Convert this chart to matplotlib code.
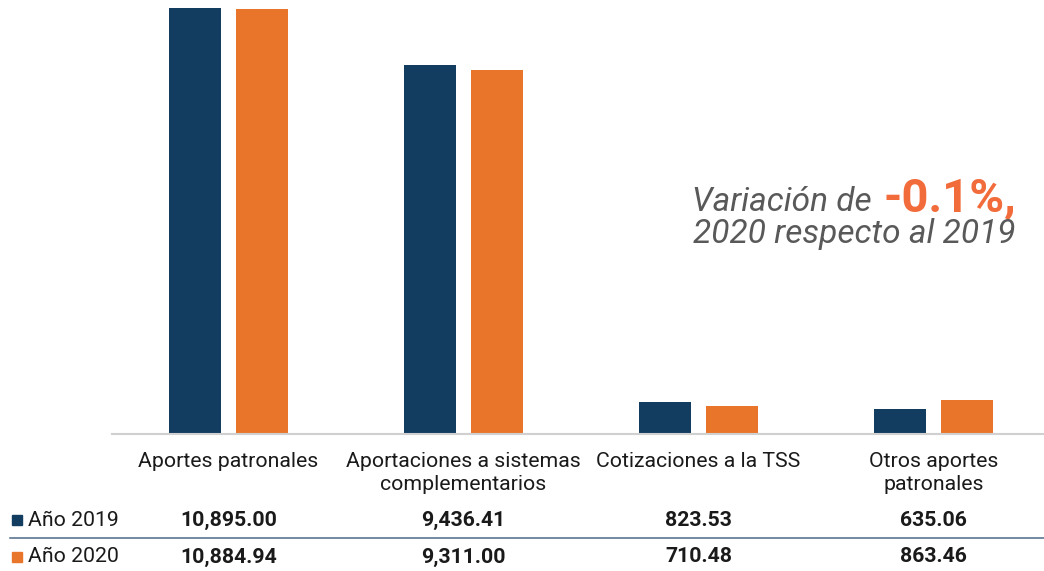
import matplotlib.pyplot as plt
import numpy as np
from matplotlib.patches import Rectangle

categories = ["Aportes patronales", "Aportaciones a sistemas\ncomplementarios",
              "Cotizaciones a la TSS", "Otros aportes\npatronales"]
values_2019 = [10895.00, 9436.41, 823.53, 635.06]
values_2020 = [10884.94, 9311.00, 710.48, 863.46]
series_labels = ["Año 2019", "Año 2020"]
variation_text = "-0.1%,"

BLUE = "#123c60"
ORANGE = "#e8752a"
W, H = 1044, 571
FS = 15.3

plt.rcParams['font.family'] = ['Roboto', 'DejaVu Sans']


def fx(x):
    return x / W


def fy(y):
    return 1 - y / H


fig = plt.figure(figsize=(W / 100, H / 100), dpi=100)
ax = fig.add_axes([fx(112), fy(434), fx(1044 - 112), (434 - 8) / H])

x = np.arange(len(categories))
bw = 0.221
off = 0.1426
ax.bar(x - off, values_2019, bw, color=BLUE)
ax.bar(x + off, values_2020, bw, color=ORANGE)
ax.set_xlim(-0.496, 3.47)
ax.set_ylim(0, max(values_2019 + values_2020) * 1.0009)
for s in ["top", "right", "left"]:
    ax.spines[s].set_visible(False)
ax.spines["bottom"].set_color("#d0d0d0")
ax.spines["bottom"].set_linewidth(1.5)
ax.set_yticks([])
ax.set_xticks([])

# category labels and table values, positioned through the data transform
for i, cat in enumerate(categories):
    xd = ax.transData.transform((i, 0))[0]
    xf = fig.transFigure.inverted().transform((xd, 0))[0]
    fig.text(xf, fy(452), cat, ha="center", va="top", fontsize=FS,
             color="#1a1a1a", linespacing=1.3)
    fig.text(xf, fy(520), f"{values_2019[i]:,.2f}", ha="center", va="center",
             fontsize=FS, fontweight="bold", color="#1a1a1a")
    fig.text(xf, fy(557), f"{values_2020[i]:,.2f}", ha="center", va="center",
             fontsize=FS, fontweight="bold", color="#1a1a1a")

# legend rows of the table
for lab, col, yy in [(series_labels[0], BLUE, 520), (series_labels[1], ORANGE, 557)]:
    fig.patches.append(Rectangle((fx(12), fy(yy + 5)), fx(10), 10 / H,
                                 color=col, transform=fig.transFigure))
    fig.text(fx(28), fy(yy), lab, ha="left", va="center", fontsize=FS,
             color="#1a1a1a")
fig.add_artist(plt.Line2D([fx(10), fx(1044)], [fy(538), fy(538)],
                          color="#4d6a88", lw=1.1))

# annotation
big = fig.text(fx(1016), fy(211), variation_text, ha="right", va="baseline",
               fontsize=34, fontweight="bold", color="#f26b3a")
fig.canvas.draw()
bb = big.get_window_extent(fig.canvas.get_renderer())
fig.text(bb.x0 / W - fx(12), fy(211), "Variación de", ha="right",
         va="baseline", fontsize=24, style="italic", color="#595959")
fig.text(fx(1016), fy(243), "2020 respecto al 2019", ha="right",
         va="baseline", fontsize=24, style="italic", color="#595959")

fig.savefig("out.png", dpi=100)
